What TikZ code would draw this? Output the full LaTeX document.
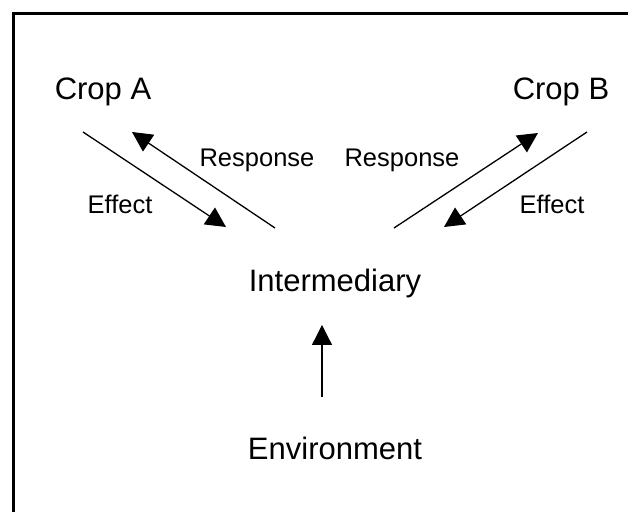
\documentclass[tikz,border=0pt]{standalone}
\usepackage{fontspec}
\setmainfont{Liberation Sans}
\usetikzlibrary{arrows.meta,positioning}

\begin{document}
\begin{tikzpicture}[
    x=0.5pt, y=-0.5pt,
    big/.style={anchor=base, inner sep=0pt, font=\fontsize{15.5}{18}\selectfont},
    lbl/.style={anchor=base, inner sep=0pt, font=\fontsize{12.75}{15}\selectfont},
    arr/.style={-{Triangle[length=10pt, width=10pt]}, line width=0.65pt, black}
]
\useasboundingbox (0,0) rectangle (628,512);
\draw[line width=1.7pt] (13.5,512) -- (13.5,13.5) -- (628,13.5);

% factors
\node[big] (cropA) at (103,100) {Crop A};
\node[big] (cropB) at (561,100) {Crop B};
\node[big] (inter) at (335,292) {Intermediary};
\node[big] (env) at (335,460) {Environment};

% labels
\node[lbl] (respA) at (257,167) {Response};
\node[lbl] (respB) at (402,167) {Response};
\node[lbl] (effA) at (120,214) {Effect};
\node[lbl] (effB) at (552,214) {Effect};

% arrow ends
\coordinate (eA1) at (83,132);
\coordinate (eA2) at (226,227);
\coordinate (rA1) at (275,228);
\coordinate (rA2) at (132,132);
\coordinate (rB1) at (394,228);
\coordinate (rB2) at (538,133);
\coordinate (eB1) at (587,132);
\coordinate (eB2) at (444,227);
\coordinate (envTop) at (322,397);
\coordinate (interBot) at (322,325);

\draw[arr] (eA1) -- (eA2);
\draw[arr] (rA1) -- (rA2);
\draw[arr] (rB1) -- (rB2);
\draw[arr] (eB1) -- (eB2);
\draw[arr] (envTop) -- (interBot);
\end{tikzpicture}
\end{document}
